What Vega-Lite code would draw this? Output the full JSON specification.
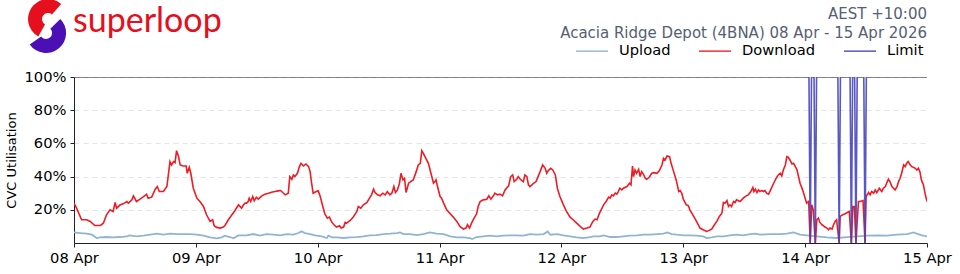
{
"$schema":"https://vega.github.io/schema/vega-lite/v6.json",
"autosize":{"type":"none"},
"padding":{"left":74,"top":77,"right":33,"bottom":31},
"width":853,"height":166,
"background":"white",
"title":{"text":["AEST +10:00","Acacia Ridge Depot (4BNA) 08 Apr - 15 Apr 2026"],"anchor":"end","frame":"group","orient":"top","font":"DejaVu Sans","fontSize":15,"fontWeight":"normal","color":"#566073","lineHeight":19,"offset":-42},
"datasets":{
"upload":[
{"t":"2026-04-08T00:00","v":6.4},{"t":"2026-04-08T01:12","v":6},{"t":"2026-04-08T02:30","v":5.6},{"t":"2026-04-08T03:30","v":5},{"t":"2026-04-08T04:30","v":3},{"t":"2026-04-08T05:06","v":3.4},{"t":"2026-04-08T06:24","v":3.6},{"t":"2026-04-08T07:42","v":3.4},{"t":"2026-04-08T09:06","v":3.6},{"t":"2026-04-08T10:24","v":4},{"t":"2026-04-08T11:00","v":4.6},{"t":"2026-04-08T12:18","v":4},{"t":"2026-04-08T13:42","v":4.4},{"t":"2026-04-08T15:00","v":5},{"t":"2026-04-08T16:18","v":5.6},{"t":"2026-04-08T17:36","v":5},{"t":"2026-04-08T18:54","v":5.6},{"t":"2026-04-08T20:12","v":5.4},{"t":"2026-04-08T21:30","v":5.4},{"t":"2026-04-08T22:54","v":5.4},
{"t":"2026-04-09T00:12","v":5},{"t":"2026-04-09T01:30","v":4.4},{"t":"2026-04-09T02:48","v":3.4},{"t":"2026-04-09T04:06","v":2.8},{"t":"2026-04-09T05:06","v":3.4},{"t":"2026-04-09T05:42","v":4.4},{"t":"2026-04-09T06:42","v":3.6},{"t":"2026-04-09T07:24","v":2.8},{"t":"2026-04-09T08:24","v":4.6},{"t":"2026-04-09T10:00","v":4.6},{"t":"2026-04-09T11:18","v":5.4},{"t":"2026-04-09T12:36","v":4.4},{"t":"2026-04-09T13:54","v":5.4},{"t":"2026-04-09T15:18","v":5},{"t":"2026-04-09T16:36","v":4.6},{"t":"2026-04-09T17:54","v":5.4},{"t":"2026-04-09T19:12","v":5},{"t":"2026-04-09T20:12","v":6},{"t":"2026-04-09T20:48","v":7},{"t":"2026-04-09T21:30","v":6},{"t":"2026-04-09T22:30","v":5.4},{"t":"2026-04-09T23:30","v":4.6},
{"t":"2026-04-10T00:48","v":4},{"t":"2026-04-10T01:48","v":3},{"t":"2026-04-10T02:06","v":4.4},{"t":"2026-04-10T02:48","v":3.4},{"t":"2026-04-10T03:48","v":3.4},{"t":"2026-04-10T05:06","v":3},{"t":"2026-04-10T06:24","v":3.4},{"t":"2026-04-10T07:42","v":3.6},{"t":"2026-04-10T09:00","v":4},{"t":"2026-04-10T10:18","v":4.6},{"t":"2026-04-10T11:36","v":4.8},{"t":"2026-04-10T13:00","v":5.4},{"t":"2026-04-10T14:18","v":5.6},{"t":"2026-04-10T15:36","v":6},{"t":"2026-04-10T16:12","v":6.4},{"t":"2026-04-10T16:54","v":5.4},{"t":"2026-04-10T18:12","v":5.4},{"t":"2026-04-10T19:30","v":4.8},{"t":"2026-04-10T20:48","v":5.4},{"t":"2026-04-10T22:06","v":6.4},{"t":"2026-04-10T23:24","v":5.6},
{"t":"2026-04-11T00:48","v":5.4},{"t":"2026-04-11T02:06","v":4},{"t":"2026-04-11T03:24","v":3.4},{"t":"2026-04-11T04:42","v":3.4},{"t":"2026-04-11T06:00","v":3},{"t":"2026-04-11T06:24","v":2.4},{"t":"2026-04-11T07:18","v":3.6},{"t":"2026-04-11T08:36","v":4},{"t":"2026-04-11T09:54","v":4.4},{"t":"2026-04-11T11:12","v":4},{"t":"2026-04-11T12:30","v":4.4},{"t":"2026-04-11T13:54","v":4.6},{"t":"2026-04-11T15:12","v":4.6},{"t":"2026-04-11T16:30","v":4.4},{"t":"2026-04-11T17:48","v":5.4},{"t":"2026-04-11T19:12","v":5},{"t":"2026-04-11T20:30","v":5.4},{"t":"2026-04-11T21:18","v":7},{"t":"2026-04-11T21:48","v":5},{"t":"2026-04-11T23:06","v":5.4},
{"t":"2026-04-12T00:24","v":4.6},{"t":"2026-04-12T01:42","v":4},{"t":"2026-04-12T03:00","v":3.4},{"t":"2026-04-12T04:18","v":3},{"t":"2026-04-12T05:36","v":3.6},{"t":"2026-04-12T06:18","v":4},{"t":"2026-04-12T07:36","v":4},{"t":"2026-04-12T08:18","v":4.6},{"t":"2026-04-12T09:36","v":3.6},{"t":"2026-04-12T10:54","v":3.6},{"t":"2026-04-12T12:12","v":4},{"t":"2026-04-12T13:30","v":4.4},{"t":"2026-04-12T14:54","v":4.6},{"t":"2026-04-12T16:12","v":5},{"t":"2026-04-12T17:30","v":5},{"t":"2026-04-12T18:48","v":5.4},{"t":"2026-04-12T20:06","v":5.6},{"t":"2026-04-12T20:54","v":6.4},{"t":"2026-04-12T21:42","v":5.4},{"t":"2026-04-12T22:42","v":5},
{"t":"2026-04-13T00:00","v":4.6},{"t":"2026-04-13T01:18","v":4.6},{"t":"2026-04-13T02:36","v":4.4},{"t":"2026-04-13T03:54","v":4},{"t":"2026-04-13T04:36","v":3},{"t":"2026-04-13T05:36","v":3.4},{"t":"2026-04-13T06:36","v":4},{"t":"2026-04-13T07:54","v":4},{"t":"2026-04-13T09:12","v":4.6},{"t":"2026-04-13T10:30","v":5},{"t":"2026-04-13T11:48","v":4.6},{"t":"2026-04-13T13:12","v":5.4},{"t":"2026-04-13T14:12","v":5.6},{"t":"2026-04-13T15:06","v":5},{"t":"2026-04-13T17:06","v":5.4},{"t":"2026-04-13T19:06","v":5.4},{"t":"2026-04-13T20:24","v":5.6},{"t":"2026-04-13T21:42","v":6.4},{"t":"2026-04-13T23:00","v":5},
{"t":"2026-04-14T00:18","v":4.6},{"t":"2026-04-14T02:18","v":4},{"t":"2026-04-14T04:18","v":3.4},{"t":"2026-04-14T06:18","v":3},{"t":"2026-04-14T08:18","v":3.6},{"t":"2026-04-14T10:12","v":4},{"t":"2026-04-14T12:12","v":4.4},{"t":"2026-04-14T14:12","v":4.6},{"t":"2026-04-14T16:06","v":4.4},{"t":"2026-04-14T18:06","v":5},{"t":"2026-04-14T20:06","v":5.4},{"t":"2026-04-14T21:24","v":6.4},{"t":"2026-04-14T22:00","v":5.6},{"t":"2026-04-14T23:00","v":4.6},{"t":"2026-04-15T00:00","v":4}
],
"download":[
{"t":"2026-04-08T00:00","v":24},{"t":"2026-04-08T00:30","v":21},{"t":"2026-04-08T01:30","v":14},{"t":"2026-04-08T02:30","v":14},{"t":"2026-04-08T03:12","v":13},{"t":"2026-04-08T04:06","v":10.5},{"t":"2026-04-08T05:06","v":10.5},{"t":"2026-04-08T05:24","v":11},{"t":"2026-04-08T05:48","v":12},{"t":"2026-04-08T06:24","v":17},{"t":"2026-04-08T07:06","v":20},{"t":"2026-04-08T07:42","v":19},{"t":"2026-04-08T08:06","v":24.4},{"t":"2026-04-08T08:24","v":21},{"t":"2026-04-08T09:06","v":23},{"t":"2026-04-08T09:42","v":23.6},{"t":"2026-04-08T10:24","v":25},{"t":"2026-04-08T10:42","v":24},{"t":"2026-04-08T11:24","v":26},{"t":"2026-04-08T11:42","v":28.4},{"t":"2026-04-08T12:18","v":25},{"t":"2026-04-08T13:00","v":26.4},{"t":"2026-04-08T13:42","v":28},{"t":"2026-04-08T14:18","v":29.4},{"t":"2026-04-08T14:36","v":27},{"t":"2026-04-08T15:18","v":27.6},{"t":"2026-04-08T16:00","v":32.4},{"t":"2026-04-08T16:24","v":34},{"t":"2026-04-08T16:48","v":31},{"t":"2026-04-08T17:36","v":31},{"t":"2026-04-08T18:18","v":34},{"t":"2026-04-08T18:54","v":49},{"t":"2026-04-08T19:12","v":47},{"t":"2026-04-08T19:36","v":49},{"t":"2026-04-08T19:54","v":48.4},{"t":"2026-04-08T20:12","v":55.6},{"t":"2026-04-08T20:36","v":52},{"t":"2026-04-08T20:54","v":47},{"t":"2026-04-08T21:30","v":46.4},{"t":"2026-04-08T22:06","v":46.4},{"t":"2026-04-08T22:18","v":42},{"t":"2026-04-08T22:42","v":45.6},{"t":"2026-04-08T23:00","v":42},{"t":"2026-04-08T23:30","v":33},
{"t":"2026-04-09T00:12","v":27},{"t":"2026-04-09T00:48","v":25},{"t":"2026-04-09T01:30","v":22},{"t":"2026-04-09T02:06","v":17},{"t":"2026-04-09T02:48","v":13},{"t":"2026-04-09T03:18","v":14},{"t":"2026-04-09T03:36","v":10.4},{"t":"2026-04-09T04:06","v":9.4},{"t":"2026-04-09T04:48","v":9},{"t":"2026-04-09T05:24","v":9.6},{"t":"2026-04-09T05:42","v":10.4},{"t":"2026-04-09T06:24","v":14},{"t":"2026-04-09T07:06","v":17},{"t":"2026-04-09T07:42","v":19.6},{"t":"2026-04-09T08:24","v":23},{"t":"2026-04-09T09:00","v":21},{"t":"2026-04-09T09:24","v":23},{"t":"2026-04-09T09:42","v":24},{"t":"2026-04-09T10:00","v":24},{"t":"2026-04-09T10:18","v":25},{"t":"2026-04-09T10:30","v":27},{"t":"2026-04-09T10:48","v":25},{"t":"2026-04-09T11:12","v":28},{"t":"2026-04-09T11:30","v":25.4},{"t":"2026-04-09T11:54","v":27.6},{"t":"2026-04-09T12:18","v":26.4},{"t":"2026-04-09T13:00","v":28.4},{"t":"2026-04-09T13:36","v":29.4},{"t":"2026-04-09T14:18","v":30},{"t":"2026-04-09T14:54","v":30.6},{"t":"2026-04-09T15:36","v":31},{"t":"2026-04-09T16:12","v":31.4},{"t":"2026-04-09T16:42","v":31.6},{"t":"2026-04-09T17:06","v":30.4},{"t":"2026-04-09T17:36","v":29},{"t":"2026-04-09T18:12","v":30},{"t":"2026-04-09T18:30","v":40},{"t":"2026-04-09T18:54","v":38.4},{"t":"2026-04-09T19:12","v":41},{"t":"2026-04-09T19:30","v":40},{"t":"2026-04-09T20:00","v":42},{"t":"2026-04-09T20:24","v":46},{"t":"2026-04-09T20:42","v":48},{"t":"2026-04-09T21:12","v":46.4},{"t":"2026-04-09T21:42","v":47.6},{"t":"2026-04-09T22:12","v":46},{"t":"2026-04-09T22:30","v":43},{"t":"2026-04-09T22:48","v":36},{"t":"2026-04-09T23:06","v":30},{"t":"2026-04-09T23:42","v":31},
{"t":"2026-04-10T00:06","v":31.4},{"t":"2026-04-10T00:30","v":28},{"t":"2026-04-10T01:00","v":22},{"t":"2026-04-10T01:24","v":17.6},{"t":"2026-04-10T01:54","v":15},{"t":"2026-04-10T02:18","v":15.6},{"t":"2026-04-10T02:48","v":12.4},{"t":"2026-04-10T03:12","v":11},{"t":"2026-04-10T03:42","v":9.6},{"t":"2026-04-10T04:18","v":10.4},{"t":"2026-04-10T04:36","v":9},{"t":"2026-04-10T05:06","v":9.6},{"t":"2026-04-10T05:24","v":12.4},{"t":"2026-04-10T05:42","v":12},{"t":"2026-04-10T06:24","v":13.6},{"t":"2026-04-10T07:00","v":15.6},{"t":"2026-04-10T07:42","v":19},{"t":"2026-04-10T08:00","v":22},{"t":"2026-04-10T08:30","v":21},{"t":"2026-04-10T09:00","v":23},{"t":"2026-04-10T09:42","v":24.4},{"t":"2026-04-10T10:12","v":27},{"t":"2026-04-10T10:36","v":29},{"t":"2026-04-10T11:00","v":32.4},{"t":"2026-04-10T11:18","v":30.4},{"t":"2026-04-10T11:48","v":29},{"t":"2026-04-10T12:18","v":28.4},{"t":"2026-04-10T12:48","v":30},{"t":"2026-04-10T13:18","v":29},{"t":"2026-04-10T13:42","v":31},{"t":"2026-04-10T14:12","v":29},{"t":"2026-04-10T14:36","v":30},{"t":"2026-04-10T15:00","v":34},{"t":"2026-04-10T15:18","v":30.4},{"t":"2026-04-10T15:42","v":32},{"t":"2026-04-10T16:06","v":36},{"t":"2026-04-10T16:24","v":42},{"t":"2026-04-10T16:48","v":38},{"t":"2026-04-10T17:06","v":39},{"t":"2026-04-10T17:24","v":30.4},{"t":"2026-04-10T17:54","v":36},{"t":"2026-04-10T18:18","v":37},{"t":"2026-04-10T18:48","v":38},{"t":"2026-04-10T19:24","v":43},{"t":"2026-04-10T19:48","v":47},{"t":"2026-04-10T20:12","v":48},{"t":"2026-04-10T20:30","v":55.6},{"t":"2026-04-10T20:48","v":54},{"t":"2026-04-10T21:18","v":51},{"t":"2026-04-10T21:48","v":48},{"t":"2026-04-10T22:18","v":42},{"t":"2026-04-10T22:48","v":36},{"t":"2026-04-10T23:06","v":37},{"t":"2026-04-10T23:18","v":38},{"t":"2026-04-10T23:36","v":34},
{"t":"2026-04-11T00:06","v":28},{"t":"2026-04-11T00:24","v":27},{"t":"2026-04-11T00:48","v":24},{"t":"2026-04-11T01:24","v":20},{"t":"2026-04-11T02:06","v":17.6},{"t":"2026-04-11T02:42","v":15.6},{"t":"2026-04-11T03:24","v":13},{"t":"2026-04-11T04:00","v":10},{"t":"2026-04-11T04:42","v":8.4},{"t":"2026-04-11T05:12","v":9},{"t":"2026-04-11T05:30","v":11},{"t":"2026-04-11T05:54","v":9},{"t":"2026-04-11T06:18","v":12},{"t":"2026-04-11T06:48","v":15},{"t":"2026-04-11T07:18","v":17.6},{"t":"2026-04-11T07:36","v":22},{"t":"2026-04-11T08:00","v":25},{"t":"2026-04-11T08:36","v":26},{"t":"2026-04-11T09:18","v":26.4},{"t":"2026-04-11T09:42","v":28.4},{"t":"2026-04-11T10:06","v":26.4},{"t":"2026-04-11T10:36","v":28.4},{"t":"2026-04-11T10:54","v":30},{"t":"2026-04-11T11:24","v":29},{"t":"2026-04-11T11:54","v":29.4},{"t":"2026-04-11T12:24","v":28.4},{"t":"2026-04-11T12:54","v":32},{"t":"2026-04-11T13:36","v":34.4},{"t":"2026-04-11T14:00","v":40},{"t":"2026-04-11T14:24","v":41},{"t":"2026-04-11T14:42","v":37},{"t":"2026-04-11T15:12","v":38.4},{"t":"2026-04-11T15:30","v":40},{"t":"2026-04-11T15:54","v":38.4},{"t":"2026-04-11T16:12","v":37.6},{"t":"2026-04-11T16:30","v":37},{"t":"2026-04-11T16:48","v":41},{"t":"2026-04-11T17:12","v":40},{"t":"2026-04-11T17:30","v":35},{"t":"2026-04-11T17:48","v":34},{"t":"2026-04-11T18:12","v":35},{"t":"2026-04-11T18:30","v":36},{"t":"2026-04-11T19:00","v":37},{"t":"2026-04-11T19:24","v":40},{"t":"2026-04-11T19:48","v":43},{"t":"2026-04-11T20:18","v":47},{"t":"2026-04-11T20:48","v":45},{"t":"2026-04-11T21:06","v":42},{"t":"2026-04-11T21:24","v":43.6},{"t":"2026-04-11T21:54","v":45},{"t":"2026-04-11T22:18","v":44},{"t":"2026-04-11T22:48","v":41},{"t":"2026-04-11T23:12","v":33},{"t":"2026-04-11T23:42","v":28},
{"t":"2026-04-12T00:24","v":23},{"t":"2026-04-12T01:00","v":19},{"t":"2026-04-12T01:42","v":15.6},{"t":"2026-04-12T02:18","v":14},{"t":"2026-04-12T03:00","v":12},{"t":"2026-04-12T03:42","v":10},{"t":"2026-04-12T04:18","v":8.4},{"t":"2026-04-12T05:00","v":9},{"t":"2026-04-12T05:36","v":9.6},{"t":"2026-04-12T06:12","v":13},{"t":"2026-04-12T06:36","v":14.4},{"t":"2026-04-12T07:00","v":14},{"t":"2026-04-12T07:30","v":18},{"t":"2026-04-12T08:00","v":21},{"t":"2026-04-12T08:18","v":23},{"t":"2026-04-12T08:48","v":25},{"t":"2026-04-12T09:18","v":27.6},{"t":"2026-04-12T09:36","v":27},{"t":"2026-04-12T09:54","v":29},{"t":"2026-04-12T10:12","v":28.4},{"t":"2026-04-12T10:36","v":30},{"t":"2026-04-12T10:54","v":29.4},{"t":"2026-04-12T11:12","v":31},{"t":"2026-04-12T11:30","v":33},{"t":"2026-04-12T11:54","v":32},{"t":"2026-04-12T12:12","v":33},{"t":"2026-04-12T12:54","v":34},{"t":"2026-04-12T13:24","v":36},{"t":"2026-04-12T13:42","v":35},{"t":"2026-04-12T14:00","v":46.4},{"t":"2026-04-12T14:12","v":40},{"t":"2026-04-12T14:30","v":44},{"t":"2026-04-12T14:48","v":42},{"t":"2026-04-12T15:12","v":44.4},{"t":"2026-04-12T15:30","v":40},{"t":"2026-04-12T15:48","v":43},{"t":"2026-04-12T16:12","v":41},{"t":"2026-04-12T16:30","v":39},{"t":"2026-04-12T16:48","v":38.4},{"t":"2026-04-12T17:18","v":39.6},{"t":"2026-04-12T17:48","v":42},{"t":"2026-04-12T18:12","v":42.4},{"t":"2026-04-12T18:48","v":42},{"t":"2026-04-12T19:18","v":43.6},{"t":"2026-04-12T19:48","v":47},{"t":"2026-04-12T20:06","v":51},{"t":"2026-04-12T20:24","v":50},{"t":"2026-04-12T20:48","v":52.4},{"t":"2026-04-12T21:18","v":52},{"t":"2026-04-12T21:36","v":48},{"t":"2026-04-12T22:06","v":43},{"t":"2026-04-12T22:36","v":38},{"t":"2026-04-12T23:06","v":31},{"t":"2026-04-12T23:24","v":31.6},{"t":"2026-04-12T23:42","v":30},
{"t":"2026-04-13T00:00","v":26.4},{"t":"2026-04-13T00:36","v":23},{"t":"2026-04-13T01:00","v":22.4},{"t":"2026-04-13T01:18","v":20},{"t":"2026-04-13T02:00","v":16.4},{"t":"2026-04-13T02:36","v":13},{"t":"2026-04-13T03:18","v":9},{"t":"2026-04-13T03:54","v":8},{"t":"2026-04-13T04:36","v":7},{"t":"2026-04-13T05:06","v":7.6},{"t":"2026-04-13T05:36","v":8.4},{"t":"2026-04-13T06:00","v":10.4},{"t":"2026-04-13T06:36","v":13},{"t":"2026-04-13T07:06","v":16},{"t":"2026-04-13T07:36","v":18},{"t":"2026-04-13T07:54","v":24.4},{"t":"2026-04-13T08:12","v":24},{"t":"2026-04-13T08:36","v":25.6},{"t":"2026-04-13T08:54","v":22},{"t":"2026-04-13T09:12","v":23},{"t":"2026-04-13T09:30","v":22},{"t":"2026-04-13T09:54","v":25},{"t":"2026-04-13T10:12","v":24.4},{"t":"2026-04-13T10:30","v":26},{"t":"2026-04-13T11:12","v":25},{"t":"2026-04-13T11:48","v":27},{"t":"2026-04-13T12:24","v":28.4},{"t":"2026-04-13T12:48","v":29},{"t":"2026-04-13T13:18","v":31},{"t":"2026-04-13T13:42","v":33.4},{"t":"2026-04-13T13:54","v":31},{"t":"2026-04-13T14:12","v":32.4},{"t":"2026-04-13T14:30","v":30.4},{"t":"2026-04-13T14:48","v":32},{"t":"2026-04-13T15:06","v":31},{"t":"2026-04-13T15:30","v":31.6},{"t":"2026-04-13T15:48","v":31},{"t":"2026-04-13T16:06","v":31.6},{"t":"2026-04-13T16:24","v":30},{"t":"2026-04-13T16:48","v":29.4},{"t":"2026-04-13T17:12","v":32},{"t":"2026-04-13T17:48","v":36},{"t":"2026-04-13T18:18","v":39},{"t":"2026-04-13T18:42","v":41},{"t":"2026-04-13T19:06","v":42},{"t":"2026-04-13T19:24","v":40.4},{"t":"2026-04-13T19:42","v":44},{"t":"2026-04-13T20:06","v":47},{"t":"2026-04-13T20:24","v":52},{"t":"2026-04-13T20:42","v":51.6},{"t":"2026-04-13T21:00","v":50},{"t":"2026-04-13T21:24","v":47.6},{"t":"2026-04-13T21:42","v":48},{"t":"2026-04-13T22:00","v":46.4},{"t":"2026-04-13T22:24","v":44},{"t":"2026-04-13T22:42","v":40},{"t":"2026-04-13T23:00","v":36},{"t":"2026-04-13T23:30","v":32},
{"t":"2026-04-14T00:00","v":27},{"t":"2026-04-14T00:18","v":24},{"t":"2026-04-14T00:42","v":25},{"t":"2026-04-14T01:00","v":0},{"t":"2026-04-14T01:18","v":23},{"t":"2026-04-14T01:36","v":20},{"t":"2026-04-14T02:00","v":0},{"t":"2026-04-14T02:18","v":14},{"t":"2026-04-14T02:36","v":15},{"t":"2026-04-14T02:54","v":12.4},{"t":"2026-04-14T03:18","v":11},{"t":"2026-04-14T03:36","v":10.4},{"t":"2026-04-14T03:54","v":9.6},{"t":"2026-04-14T04:18","v":9},{"t":"2026-04-14T04:36","v":8},{"t":"2026-04-14T04:54","v":9},{"t":"2026-04-14T05:18","v":8.4},{"t":"2026-04-14T05:36","v":11},{"t":"2026-04-14T05:54","v":13},{"t":"2026-04-14T06:12","v":14},{"t":"2026-04-14T06:42","v":0},{"t":"2026-04-14T06:54","v":16},{"t":"2026-04-14T07:24","v":17},{"t":"2026-04-14T07:54","v":17.6},{"t":"2026-04-14T08:18","v":18.4},{"t":"2026-04-14T08:42","v":19},{"t":"2026-04-14T09:06","v":0},{"t":"2026-04-14T09:24","v":22},{"t":"2026-04-14T09:42","v":22},{"t":"2026-04-14T10:00","v":0},{"t":"2026-04-14T10:30","v":25},{"t":"2026-04-14T10:48","v":25},{"t":"2026-04-14T11:24","v":25.6},{"t":"2026-04-14T11:48","v":0},{"t":"2026-04-14T12:00","v":28},{"t":"2026-04-14T12:30","v":30.4},{"t":"2026-04-14T12:48","v":29},{"t":"2026-04-14T13:06","v":31},{"t":"2026-04-14T13:30","v":30},{"t":"2026-04-14T13:48","v":32},{"t":"2026-04-14T14:06","v":30.4},{"t":"2026-04-14T14:36","v":33},{"t":"2026-04-14T15:06","v":31},{"t":"2026-04-14T15:24","v":33},{"t":"2026-04-14T15:48","v":34},{"t":"2026-04-14T16:06","v":36.4},{"t":"2026-04-14T16:24","v":38.4},{"t":"2026-04-14T16:42","v":37},{"t":"2026-04-14T17:06","v":34},{"t":"2026-04-14T17:24","v":33},{"t":"2026-04-14T17:42","v":32},{"t":"2026-04-14T18:06","v":34},{"t":"2026-04-14T18:24","v":37},{"t":"2026-04-14T18:42","v":39},{"t":"2026-04-14T19:00","v":42},{"t":"2026-04-14T19:24","v":47},{"t":"2026-04-14T19:42","v":46},{"t":"2026-04-14T20:00","v":48},{"t":"2026-04-14T20:18","v":49},{"t":"2026-04-14T20:42","v":47},{"t":"2026-04-14T21:00","v":46},{"t":"2026-04-14T21:18","v":45.6},{"t":"2026-04-14T21:42","v":45},{"t":"2026-04-14T22:00","v":44},{"t":"2026-04-14T22:18","v":45},{"t":"2026-04-14T22:36","v":43},{"t":"2026-04-14T22:54","v":38},{"t":"2026-04-14T23:18","v":35},{"t":"2026-04-14T23:36","v":30},{"t":"2026-04-15T00:00","v":25}
],
"limit":[
{"t":"2026-04-08T00:00","v":100},
{"t":"2026-04-14T00:45","v":100},{"t":"2026-04-14T01:00","v":0},{"t":"2026-04-14T01:15","v":100},
{"t":"2026-04-14T01:45","v":100},{"t":"2026-04-14T02:00","v":0},{"t":"2026-04-14T02:15","v":100},
{"t":"2026-04-14T06:27","v":100},{"t":"2026-04-14T06:42","v":0},{"t":"2026-04-14T06:57","v":100},
{"t":"2026-04-14T08:51","v":100},{"t":"2026-04-14T09:06","v":0},{"t":"2026-04-14T09:21","v":100},
{"t":"2026-04-14T09:45","v":100},{"t":"2026-04-14T10:00","v":0},{"t":"2026-04-14T10:15","v":100},
{"t":"2026-04-14T11:33","v":100},{"t":"2026-04-14T11:48","v":0},{"t":"2026-04-14T12:03","v":100},
{"t":"2026-04-15T00:00","v":100}
],
"logo":[{"name":"superloop"}]
},
"layer":[
{"encoding":{
"x":{"field":"t","type":"temporal","title":null,
 "scale":{"domain":[{"year":2026,"month":4,"date":8},{"year":2026,"month":4,"date":15}]},
 "axis":{"values":[{"year":2026,"month":4,"date":8},{"year":2026,"month":4,"date":9},{"year":2026,"month":4,"date":10},{"year":2026,"month":4,"date":11},{"year":2026,"month":4,"date":12},{"year":2026,"month":4,"date":13},{"year":2026,"month":4,"date":14},{"year":2026,"month":4,"date":15}],"format":"%d %b","grid":false,"labelFontSize":14.7,"labelColor":"#000000","tickSize":4,"labelPadding":3,"domainColor":"#222222","tickColor":"#222222","labelFlush":false,"labelOverlap":false}},
"y":{"field":"v","type":"quantitative","title":"CVC Utilisation",
 "scale":{"domain":[0,100],"nice":false},
 "axis":{"values":[20,40,60,80,100],"labelExpr":"datum.value + '%'","labelFontSize":14.7,"labelColor":"#000000","titleFontSize":13,"titleFontWeight":"normal","titleColor":"#000000","titlePadding":6,"tickSize":4,"labelPadding":4,"domainColor":"#222222","tickColor":"#222222","grid":true,"gridColor":"#e4e4e4","gridDash":[5,4],"gridWidth":1}}
},
"layer":[
{"data":{"name":"upload"},"mark":{"type":"line","strokeWidth":1.8,"clip":true},
 "encoding":{"color":{"datum":"Upload","type":"nominal","scale":{"domain":["Upload","Download","Limit"],"range":["#90b4d2","#ef1c25","#4545bf"]},
  "legend":{"orient":"none","legendX":501,"legendY":-43,"direction":"horizontal","title":null,"symbolType":"stroke","symbolSize":1024,"symbolStrokeWidth":1.5,"labelFontSize":14.7,"labelColor":"#000000","labelOffset":10,"columnPadding":25,"padding":0}}}},
{"data":{"name":"download"},"mark":{"type":"line","strokeWidth":1.6,"clip":true},
 "encoding":{"color":{"datum":"Download","type":"nominal"}}},
{"data":{"name":"limit"},"mark":{"type":"line","strokeWidth":1.6,"clip":true,"opacity":0.9},
 "encoding":{"color":{"datum":"Limit","type":"nominal"}}}
]},
{"data":{"name":"logo"},"mark":{"type":"arc","radius":20,"radius2":6,"theta":3.65,"theta2":7.0,"color":"#e60f1e"},
 "encoding":{"x":{"datum":{"year":2026,"month":4,"date":7,"hours":18,"minutes":53},"type":"temporal"},"y":{"datum":134.9,"type":"quantitative"}}},
{"data":{"name":"logo"},"mark":{"type":"arc","radius":20,"radius2":6,"theta":0.79,"theta2":4.1,"color":"#4a10b5"},
 "encoding":{"x":{"datum":{"year":2026,"month":4,"date":7,"hours":18,"minutes":30},"type":"temporal"},"y":{"datum":126.5,"type":"quantitative"}}},
{"data":{"name":"logo"},"mark":{"type":"text","font":"Lato","fontSize":34,"color":"#e60f1e","align":"left","baseline":"alphabetic"},
 "encoding":{"text":{"field":"name"},"x":{"datum":{"year":2026,"month":4,"date":7,"hours":23,"minutes":48},"type":"temporal"},"y":{"datum":127,"type":"quantitative"}}}
],
"config":{"font":"DejaVu Sans","view":{"stroke":null},"axis":{"labelFont":"DejaVu Sans","titleFont":"DejaVu Sans"},"legend":{"labelFont":"DejaVu Sans"}}
}
